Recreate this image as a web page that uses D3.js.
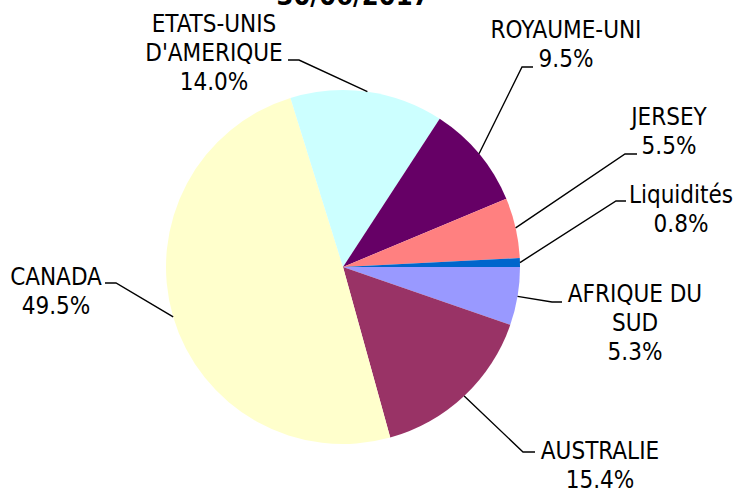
<!DOCTYPE html>
<html lang="fr">
<head>
  <meta charset="UTF-8">
  <title>Répartition géographique</title>
  <script src="https://d3js.org/d3.v7.min.js"></script>
  <style>
    body { margin: 0; background: #fff; }
    .label { font-family: "DejaVu Sans Condensed", "DejaVu Sans", sans-serif; font-size: 24px; fill: #000; }
    .title { font-family: "DejaVu Sans Condensed", "DejaVu Sans", sans-serif; font-size: 27px; font-weight: bold; }
    .leader { fill: none; stroke: #000; stroke-width: 1.4px; }
  </style>
</head>
<body>
  <svg id="chart" width="734" height="490"></svg>
  <script>
    // data, in drawing order (clockwise from 3 o'clock)
    const countries = ["AFRIQUE DU SUD", "AUSTRALIE", "CANADA", "ETATS-UNIS D'AMERIQUE", "ROYAUME-UNI", "JERSEY", "Liquidités"];
    const shares = [5.3, 15.4, 49.5, 14.0, 9.5, 5.5, 0.8];
    const colors = ["#9999FF", "#993366", "#FFFFCC", "#CCFFFF", "#660066", "#FF8080", "#0066CC"];
    const labelRows = [["AFRIQUE DU", "SUD"], ["AUSTRALIE"], ["CANADA"], ["ETATS-UNIS", "D'AMERIQUE"], ["ROYAUME-UNI"], ["JERSEY"], ["Liquidités"]];
    const titleText = "30/06/2017";

    // label layout: text centre x, first baseline, leader elbow, leader end x
    const labelPos = [
      { x: 635, y: 302, ex: 552, ey: 302, hx: 562 },
      { x: 600, y: 459, ex: 523, ey: 452, hx: 535 },
      { x: 56, y: 285, ex: 116, ey: 283, hx: 105 },
      { x: 214, y: 32, ex: 299, ey: 60, hx: 288 },
      { x: 566, y: 38, ex: 522, ey: 67, hx: 533 },
      { x: 669, y: 125, ex: 625, ey: 154, hx: 637 },
      { x: 681, y: 203, ex: 616, ey: 201, hx: 626 }
    ];

    const cx = 343, cy = 267, radius = 177, lineH = 28.8;

    const svg = d3.select("#chart");

    svg.append("text")
      .attr("class", "title")
      .attr("x", 353)
      .attr("y", 5)
      .attr("text-anchor", "middle")
      .text(titleText);

    const data = countries.map((c, i) => ({ name: c, value: shares[i], color: colors[i], rows: labelRows[i], pos: labelPos[i] }));

    const pie = d3.pie()
      .value(d => d.value)
      .sort(null)
      .startAngle(Math.PI / 2)
      .endAngle(Math.PI / 2 + 2 * Math.PI);

    const arc = d3.arc().innerRadius(0).outerRadius(radius);
    const edge = d3.arc().innerRadius(radius).outerRadius(radius);

    const g = svg.append("g").attr("transform", `translate(${cx},${cy})`);

    const arcs = pie(data);

    g.selectAll("path.slice")
      .data(arcs)
      .enter()
      .append("path")
      .attr("class", "slice")
      .attr("d", arc)
      .attr("fill", d => d.data.color);

    // leader lines
    svg.selectAll("polyline.leader")
      .data(arcs)
      .enter()
      .append("polyline")
      .attr("class", "leader")
      .attr("points", d => {
        const [px, py] = edge.centroid(d);
        const p = d.data.pos;
        return [[cx + px, cy + py], [p.ex, p.ey], [p.hx, p.ey]].map(q => q.join(",")).join(" ");
      });

    // labels
    const labels = svg.selectAll("text.label")
      .data(arcs)
      .enter()
      .append("text")
      .attr("class", "label")
      .attr("text-anchor", "middle");

    labels.each(function (d) {
      const t = d3.select(this);
      const rows = d.data.rows.concat([d3.format(".1f")(d.data.value) + "%"]);
      rows.forEach((r, i) => {
        t.append("tspan")
          .attr("x", d.data.pos.x)
          .attr("y", d.data.pos.y + i * lineH)
          .text(r);
      });
    });
  </script>
</body>
</html>
